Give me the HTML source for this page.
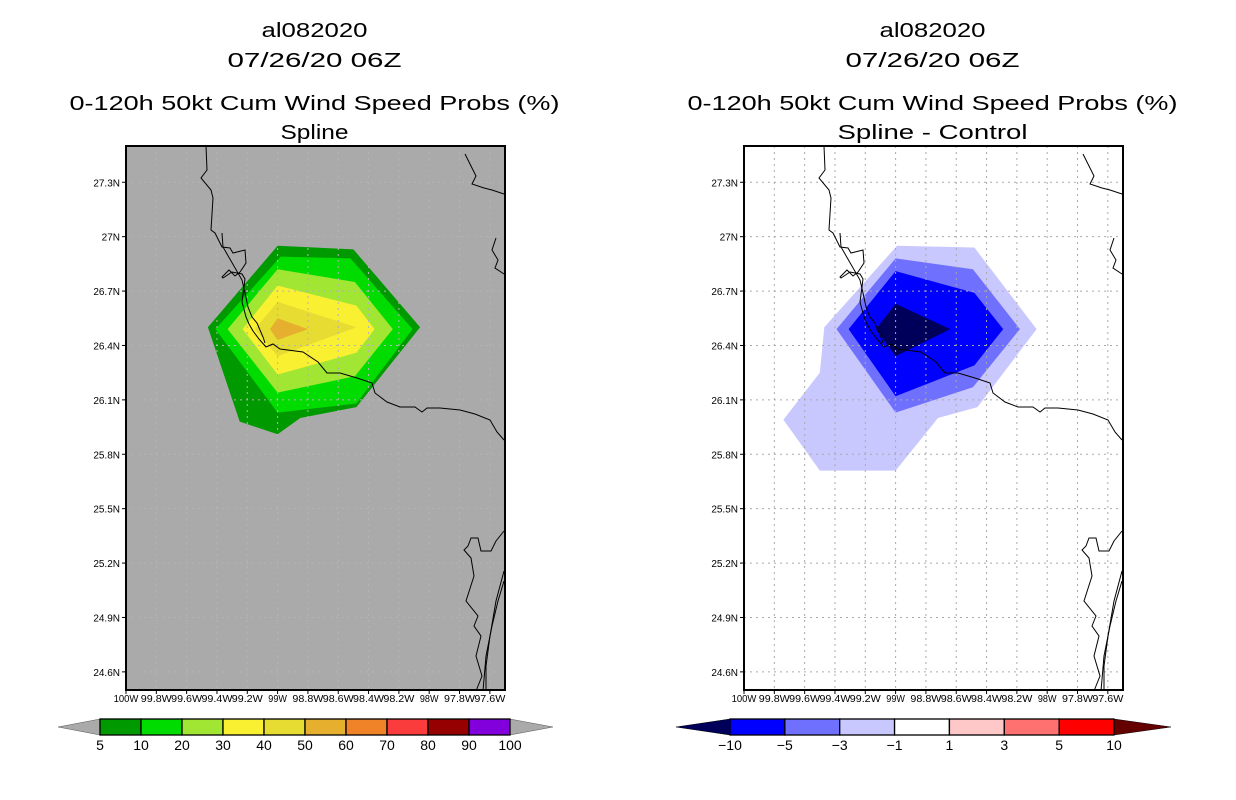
<!DOCTYPE html>
<html><head><meta charset="utf-8"><style>
html,body{margin:0;padding:0;background:#fff;}
svg{display:block;font-family:"Liberation Sans",sans-serif;}
</style></head><body>
<svg id="chart" width="1236" height="800" viewBox="0 0 1236 800" xmlns="http://www.w3.org/2000/svg"></svg>
<script>
const latTicks=[27.3,27.0,26.7,26.4,26.1,25.8,25.5,25.2,24.9,24.6];
const latLabels=["27.3N","27N","26.7N","26.4N","26.1N","25.8N","25.5N","25.2N","24.9N","24.6N"];
const lonTicks=[-100,-99.8,-99.6,-99.4,-99.2,-99,-98.8,-98.6,-98.4,-98.2,-98,-97.8,-97.6];
const lonLabels=["100W","99.8W","99.6W","99.4W","99.2W","99W","98.8W","98.6W","98.4W","98.2W","98W","97.8W","97.6W"];
const probLevels=["5","10","20","30","40","50"];
const probPolys=[
 [[-99.0,26.95],[-98.5,26.93],[-98.06,26.5],[-98.48,26.06],[-98.85,26.0],[-99.0,25.91],[-99.25,25.98],[-99.46,26.5]],
 [[-98.98,26.89],[-98.52,26.88],[-98.11,26.49],[-98.48,26.08],[-99.0,26.03],[-99.41,26.49]],
 [[-99.0,26.82],[-98.49,26.75],[-98.24,26.49],[-98.49,26.23],[-99.0,26.14],[-99.33,26.49]],
 [[-99.0,26.73],[-98.48,26.62],[-98.36,26.49],[-98.48,26.36],[-99.0,26.24],[-99.23,26.49]],
 [[-99.0,26.64],[-98.48,26.5],[-99.0,26.34],[-99.15,26.49]],
 [[-99.0,26.55],[-98.8,26.49],[-99.0,26.43],[-99.05,26.49]]
];
const probColors=["#009a00","#00dc00","#a0e632","#faf032","#e6dc32","#e6af2d"];
const diffLevels=["-1","-3","-5","-10"];
const diffPolys=[
 [[-98.99,26.95],[-98.48,26.94],[-98.07,26.49],[-98.46,26.06],[-98.72,26.0],[-99.0,25.71],[-99.5,25.71],[-99.74,25.99],[-99.5,26.25],[-99.47,26.5]],
 [[-99.0,26.88],[-98.49,26.82],[-98.18,26.49],[-98.49,26.17],[-99.0,26.03],[-99.39,26.49]],
 [[-99.0,26.81],[-98.48,26.69],[-98.29,26.49],[-98.48,26.29],[-99.0,26.12],[-99.31,26.49]],
 [[-99.0,26.63],[-98.64,26.49],[-99.0,26.34],[-99.13,26.49]]
];
const diffColors=["#c8c8ff","#7070ff","#0000ff","#00005a"];
const probBarLabels=["5","10","20","30","40","50","60","70","80","90","100"];
const probBarColors=["#009a00","#00dc00","#a0e632","#faf032","#e6dc32","#e6af2d","#f08228","#fa3c3c","#960000","#8200dc"];
const diffBarLabels=["-10","-5","-3","-1","1","3","5","10"];
const diffBarColors=["#0000ff","#7070ff","#c8c8ff","#ffffff","#ffc8c8","#ff7070","#ff0000"];
const coast=[[80,0],[81,24],[75,32],[85,44],[87,52],[85,84],[89,87],[96,101],[104,102],[107,107],[119,104],[120,117],[114,126],[109,130],[103,124],[96,131],[97,132],[106,126],[116,128],[119,133],[116,156],[120,171],[123,178],[127,185],[133,193],[140,201],[147,198],[154,203],[177,206],[192,216],[201,227],[214,227],[231,232],[246,237],[249,247],[261,256],[274,261],[289,261],[296,266],[301,262],[314,262],[334,264],[349,268],[364,274],[371,286],[378,294]];
const barrier=[[96,87],[97,101],[116,134],[119,147],[122,161],[126,171],[131,177],[137,191],[139,197]];
const coastNE=[[339,8],[350,30],[346,38],[358,42],[366,44],[378,48]];
const coastNE2=[[370,92],[366,104],[372,114],[369,122],[378,128]];
const coastSE=[[378,385],[370,395],[365,405],[355,405],[352,392],[345,392],[342,400],[338,404],[345,412],[348,430],[340,455],[352,470],[348,480],[355,490],[350,510],[356,530],[350,545]];
const coastSE2=[[378,435],[372,455],[366,480],[360,510],[357,545]];
const coastSE3=[[378,425],[370,455],[364,490],[360,520],[360,545]];

const NS="http://www.w3.org/2000/svg";
const svg=document.getElementById('chart');
function mk(tag,attrs,parent){const e=document.createElementNS(NS,tag);for(const k in attrs)e.setAttribute(k,attrs[k]);(parent||svg).appendChild(e);return e;}
const PT=146,PB=690,PW=379;
function yScale(lat){return PT+(27.5-lat)/3.0*(PB-PT);}
function xScale(x0,lon){return x0+(lon+100)/2.5*PW;}
function txt(x,y,s,size,anchor,len,name,parent){
 const t=mk('text',{x:x,y:y,'font-size':size,'text-anchor':anchor||'middle',fill:'#000'},parent);
 if(len){t.setAttribute('textLength',len);t.setAttribute('lengthAdjust','spacingAndGlyphs');}
 t.textContent=s;
 
 
 return t;}

function panel(x0,bg,polys,colors,levels,t4,prefix){
 const g=mk('g',{});
 
 
 const cx=x0+PW/2-1;
 txt(cx,37,"al082020",20,'middle',106,prefix+'-storm-id',g);
 txt(cx,67,"07/26/20 06Z",20,'middle',174,prefix+'-date-title',g);
 txt(cx,110,"0-120h 50kt Cum Wind Speed Probs (%)",20,'middle',490,prefix+'-main-title',g);
 txt(cx,139,t4,20,'middle',t4.length>8?190:68,prefix+'-subtitle',g);
 const bgR=mk('rect',{x:x0,y:PT,width:PW,height:PB-PT,fill:bg},g);
 
 
 polys.forEach((p,i)=>{
  const pts=p.map(q=>xScale(x0,q[0]).toFixed(1)+','+yScale(q[1]).toFixed(1)).join(' ');
  const el=mk('polygon',{points:pts,fill:colors[i]},g);
  
  
 });
 const gridCol=bg==='#fff'?'#aaaaaa':'#b4b4b4';
 lonTicks.forEach((l,i)=>{if(i===0)return;const x=xScale(x0,l);
  const ln=mk('line',{x1:x,x2:x,y1:PT,y2:PB,stroke:gridCol,'stroke-dasharray':'2,4','stroke-width':1},g);
  
  });
 latTicks.forEach(l=>{const y=yScale(l);
  const ln=mk('line',{x1:x0,x2:x0+PW,y1:y,y2:y,stroke:gridCol,'stroke-dasharray':'2,4','stroke-width':1},g);
  
  });
 [coast,barrier,coastNE,coastNE2,coastSE,coastSE2,coastSE3].forEach(c=>{
  const pl=mk('polyline',{points:c.map(q=>(x0+q[0])+','+(PT+q[1])).join(' '),fill:'none',stroke:'#000','stroke-width':1},g);
  
  });
 const fr=mk('rect',{x:x0,y:PT,width:PW,height:PB-PT,fill:'none',stroke:'#000','stroke-width':2},g);
 
 
 latTicks.forEach((l,i)=>{const y=yScale(l);
  const tk=mk('line',{x1:x0-4,x2:x0,y1:y,y2:y,stroke:'#000'},g);
  
  
  txt(x0-6,y+4,latLabels[i],10,'end',null,prefix+'-y-tick-label',g);});
 lonTicks.forEach((l,i)=>{const x=xScale(x0,l);
  const tk=mk('line',{x1:x,x2:x,y1:PB,y2:PB+4,stroke:'#000'},g);
  
  
  txt(x,702,lonLabels[i],10,'middle',lonLabels[i].length*6.2,prefix+'-x-tick-label',g);});
}
panel(126,'#aaaaaa',probPolys,probColors,probLevels,"Spline","left");
panel(744,'#fff',diffPolys,diffColors,diffLevels,"Spline - Control","right");

function colorbar(x0,x1,tipL,tipR,colors,labels,lcol,rcol,prefix){
 const g=mk('g',{});
 
 
 const y0=719,y1=735,ym=727,w=(x1-x0)/colors.length;
 const tl=mk('polygon',{points:`${tipL},${ym} ${x0},${y0} ${x0},${y1}`,fill:lcol,stroke:lcol==='#aaaaaa'?'#555':'#000','stroke-width':0.5},g);
 
 
 const tr=mk('polygon',{points:`${tipR},${ym} ${x1},${y0} ${x1},${y1}`,fill:rcol,stroke:rcol==='#aaaaaa'?'#555':'#000','stroke-width':0.5},g);
 
 
 colors.forEach((c,i)=>{
  const r=mk('rect',{x:x0+i*w,y:y0,width:w,height:y1-y0,fill:c,stroke:'#000','stroke-width':1.3},g);
  
  });
 labels.forEach((s,i)=>{
  const lab=s.replace('-','\u2212');
  txt(x0+i*w,750,lab,14,'middle',null,prefix+'-colorbar-label',g);});
}
colorbar(100,510,58,553,probBarColors,probBarLabels,'#aaaaaa','#aaaaaa','left');
colorbar(730,1114,676,1171,diffBarColors,diffBarLabels,'#00005a','#640000','right');
</script>
</body></html>
